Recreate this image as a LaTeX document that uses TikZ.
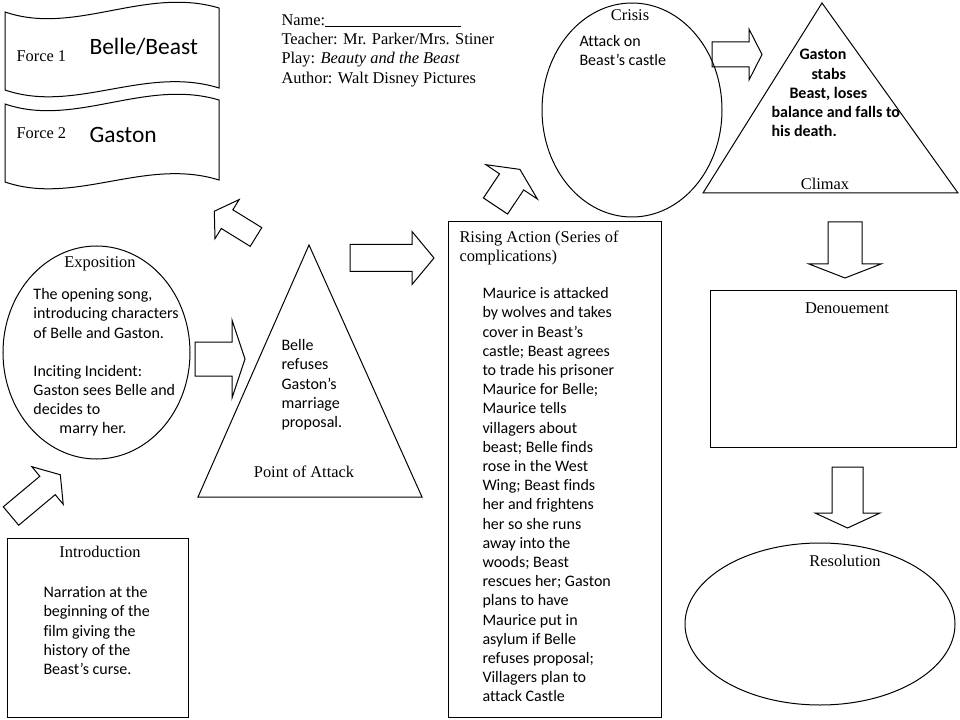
\documentclass[tikz,border=0pt]{standalone}
\usepackage{fontspec}
\newfontfamily\calibri{Carlito}[Ligatures=CommonOff]
\newfontfamily\cambria{Liberation Serif}

\tikzset{every picture/.style={line width=0.75pt}}
\tikzset{
  lbl/.style={font=\cambria\fontsize{12.3}{14.5}\selectfont, inner sep=0.75pt},
  body/.style={font=\calibri\fontsize{12}{14.4}\selectfont, inner sep=0.75pt, align=left, anchor=north west},
  big/.style={font=\calibri\fontsize{17.6}{21}\selectfont, inner sep=0.75pt, anchor=base west},
}
% block arrow: base x, base y, angle, shaft length, half shaft, head length, half head
\newcommand{\blockarrow}[7]{%
  \draw [shift={(#1,#2)}, rotate=#3] (0,-#5) -- (#4,-#5) -- (#4,-#7) -- ({#4+#6},0) -- (#4,#7) -- (#4,#5) -- (0,#5) -- cycle ;}

\begin{document}
\begin{tikzpicture}[x=0.75pt,y=0.75pt,yscale=-1,xscale=1]
    \useasboundingbox (0,0) rectangle (960,720);

    %Shape: Wave [force 1]
    \draw (5,12) .. controls (75,36) and (145,-14) .. (219,8) -- (219,88) .. controls (145,65) and (75,114) .. (5,90) -- cycle ;
    %Shape: Wave [force 2]
    \draw [shift={(0,92)}] (5,12) .. controls (75,36) and (145,-14) .. (219,8) -- (219,88) .. controls (145,65) and (75,114) .. (5,90) -- cycle ;
    %Shape: Ellipse [crisis]
    \draw (632,110) ellipse (90 and 107) ;
    %Shape: Triangle [climax]
    \draw (822,3) -- (958,193) -- (703,193) -- cycle ;
    %Shape: Ellipse [exposition]
    \draw (96.5,352.5) ellipse (93.5 and 106.5) ;
    %Shape: Triangle [point of attack]
    \draw (309,245) -- (422,497) -- (198,497) -- cycle ;
    %Shape: Rectangle [rising action]
    \draw (448,222) -- (661,222) -- (661,717) -- (448,717) -- cycle ;
    %Shape: Rectangle [introduction]
    \draw (7,538) -- (188,538) -- (188,717) -- (7,717) -- cycle ;
    %Shape: Rectangle [denouement]
    \draw (710,291) -- (956,291) -- (956,447) -- (710,447) -- cycle ;
    %Shape: Ellipse [resolution]
    \draw (820,624) ellipse (135 and 81) ;

    %Shape: Right Arrow
    \blockarrow{712}{54.5}{0}{37}{12.5}{13}{25.5}
    \blockarrow{350}{258}{0}{62}{13.5}{22}{26.5}
    \blockarrow{195}{359}{0}{37}{17}{13}{39}
    %Shape: Down Arrow
    \blockarrow{845}{222}{90}{42}{17}{14}{36}
    \blockarrow{847.5}{467}{90}{46}{15.5}{15}{32.5}
    %Shape: Rotated Arrow
    \blockarrow{256}{237}{-148.3}{34}{11}{15}{23}
    \blockarrow{11}{516}{-39.9}{47.6}{12}{16.7}{24.5}
    \blockarrow{495.5}{206}{-56.3}{29}{14.5}{15}{31}

    % Text Node
    \node [lbl, anchor=base west] (force1) at (15,62) {Force 1};
    % Text Node
    \node [big] (belle) at (88,55) {Belle/Beast};
    % Text Node
    \node [lbl, anchor=base west] (force2) at (15,139) {Force 2};
    % Text Node
    \node [big] (gaston) at (88,143) {Gaston};
    % Text Node
    \node [lbl, align=left, anchor=north west] (name) at (280,13) {Name:\rule[-1.5pt]{102pt}{0.6pt}\\Teacher: Mr. Parker/Mrs. Stiner\\Play: \textit{Beauty and the Beast}\\Author: Walt Disney Pictures};
    % Text Node
    \node [lbl, anchor=base] (crisis) at (630,21) {Crisis};
    % Text Node
    \node [body] (crisistxt) at (578,34) {Attack on\\Beast’s castle};
    % Text Node
    \node [body, font=\calibri\bfseries\fontsize{12}{14.3}\selectfont] (climaxtxt) at (770,48) {\hspace*{21pt}Gaston\\\hspace*{30pt}stabs\\\hspace*{13.5pt}Beast, loses\\balance and falls to\\his death.};
    % Text Node
    \node [lbl, anchor=base] (climax) at (825,190) {Climax};
    % Text Node
    \node [lbl, anchor=base] (expo) at (100,268) {Exposition};
    % Text Node
    \node [body] (expotxt) at (32,287) {The opening song,\\introducing characters\\of Belle and Gaston.\\[14.2pt]Inciting Incident:\\Gaston sees Belle and\\decides to\\\hspace*{19.5pt}marry her.};
    % Text Node
    \node [body] (attacktxt) at (280,338) {Belle\\refuses\\Gaston’s\\marriage\\proposal.};
    % Text Node
    \node [lbl, anchor=base] (attack) at (304,477) {Point of Attack};
    % Text Node
    \node [lbl, align=left, anchor=north west] (rising) at (458,229) {Rising Action (Series of\\complications)};
    % Text Node
    \node [body] (risingtxt) at (481,286) {Maurice is attacked\\by wolves and takes\\cover in Beast’s\\castle; Beast agrees\\to trade his prisoner\\Maurice for Belle;\\Maurice tells\\villagers about\\beast; Belle finds\\rose in the West\\Wing; Beast finds\\her and frightens\\her so she runs\\away into the\\woods; Beast\\rescues her; Gaston\\plans to have\\Maurice put in\\asylum if Belle\\refuses proposal;\\Villagers plan to\\attack Castle};
    % Text Node
    \node [lbl, anchor=base] (intro) at (100,557) {Introduction};
    % Text Node
    \node [body] (introtxt) at (42,585) {Narration at the\\beginning of the\\film giving the\\history of the\\Beast’s curse.};
    % Text Node
    \node [lbl, anchor=base] (denoue) at (847,314) {Denouement};
    % Text Node
    \node [lbl, anchor=base] (resol) at (845,566) {Resolution};

\end{tikzpicture}
\end{document}
